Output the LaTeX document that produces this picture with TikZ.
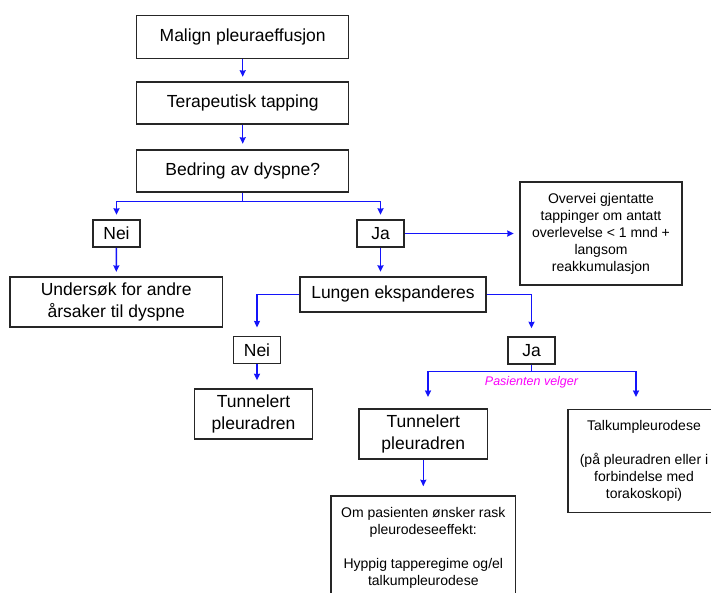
\documentclass[tikz,border=0pt]{standalone}
\usepackage{fontspec}
\setmainfont{Liberation Sans}
\usepackage{xcolor}
\usepackage{tikz}
\usetikzlibrary{arrows.meta, positioning, calc}

\definecolor{flowblue}{RGB}{20,20,250}
\definecolor{choicepink}{RGB}{250,0,250}

\begin{document}
\begin{tikzpicture}[
  x=1pt, y=-1pt,
  box/.style={rectangle, draw=black!85, line width=1.5pt, inner sep=0pt, align=center,
              font=\fontsize{17.5}{21.5}\selectfont},
  smallbox/.style={box, font=\fontsize{14}{17}\selectfont},
  answer/.style={box, minimum width=47pt, minimum height=27pt},
  arrow/.style={-{Stealth[length=6.5pt, width=6pt, inset=0.5pt]}, flowblue,
                line width=1.4pt, shorten >=4.5pt}
]
  \useasboundingbox (0,0) rectangle (711,592);
  \clip (0,0) rectangle (711,592);

  \node[box, minimum width=212pt, minimum height=42.6pt] (malign) at (242.7,37) {Malign pleuraeffusjon};
  \node[box, minimum width=212pt, minimum height=42pt] (tapping) at (242.7,103) {Terapeutisk tapping};
  \node[box, minimum width=212pt, minimum height=42pt] (bedring) at (242.7,171) {Bedring av dyspne?};
  \node[answer] (nei1) at (116.5,233.5) {Nei};
  \node[answer] (ja1) at (380.5,233.5) {Ja};
  \node[smallbox, minimum width=162pt, minimum height=103pt] (overvei) at (601,233.5)
    {Overvei gjentatte\\tappinger om antatt\\overlevelse < 1 mnd +\\langsom\\reakkumulasjon};
  \node[box, minimum width=212.4pt, minimum height=49.7pt] (undersok) at (116.2,302)
    {Undersøk for andre\\årsaker til dyspne};
  \node[box, minimum width=186pt, minimum height=34.7pt] (lungen) at (393,294.4) {Lungen ekspanderes};
  \node[answer] (nei2) at (257,350.2) {Nei};
  \node[answer] (ja2) at (531.5,350.5) {Ja};
  \node[box, minimum width=118pt, minimum height=50pt] (tunnel1) at (253.5,414) {Tunnelert\\pleuradren};
  \node[box, minimum width=128.5pt, minimum height=50pt] (tunnel2) at (423.3,434) {Tunnelert\\pleuradren};
  \node[smallbox, minimum width=152pt, minimum height=103pt] (talkum) at (644,461.2)
    {Talkumpleurodese\\~\\(på pleuradren eller i\\forbindelse med\\torakoskopi)};
  \node[smallbox, minimum width=184.6pt, minimum height=104pt] (rask) at (423.3,548)
    {Om pasienten ønsker rask\\pleurodeseeffekt:\\~\\Hyppig tapperegime og/el\\talkumpleurodese};
  \node[font=\fontsize{12.5}{14}\selectfont\itshape, text=choicepink] (velger) at (531.5,382) {Pasienten velger};

  \coordinate (tunnel2top) at (428,409);
  \coordinate (talkumtop) at (636,409);

  \draw[arrow] (malign) -- (tapping);
  \draw[arrow, shorten >=5.5pt] (tapping) -- (bedring);
  \draw[arrow] (bedring.south) -- ++(0,8.5) -| (nei1);
  \draw[arrow] (bedring.south) -- ++(0,8.5) -| (ja1);
  \draw[arrow, shorten >=5.5pt] (ja1) -- (overvei);
  \draw[arrow] (nei1) -- (undersok);
  \draw[arrow] (ja1) -- (ja1 |- lungen.north);
  \draw[arrow, shorten >=8.5pt] (lungen.west) -| (nei2);
  \draw[arrow, shorten >=8pt] (lungen.east) -| (ja2);
  \draw[arrow, shorten >=8pt] (nei2) -- (nei2 |- tunnel1.north);
  \draw[arrow, shorten >=12pt] (ja2.south) -- ++(0,7) -| (tunnel2top);
  \draw[arrow, shorten >=12pt] (ja2.south) -- ++(0,7) -| (talkumtop);
  \draw[arrow, shorten >=9pt] (tunnel2) -- (tunnel2 |- rask.north);
\end{tikzpicture}
\end{document}
